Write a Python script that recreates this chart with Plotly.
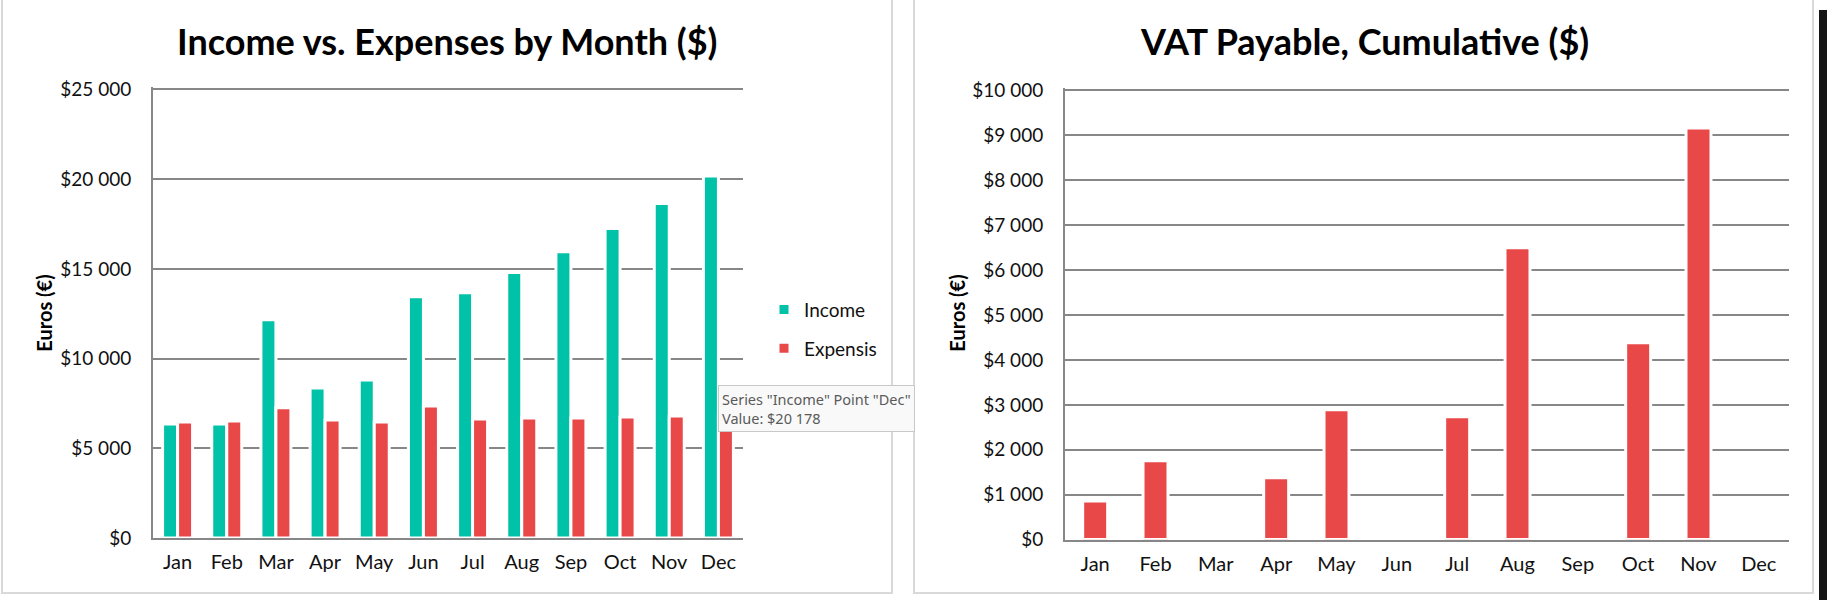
import plotly.graph_objects as go

months = ["Jan", "Feb", "Mar", "Apr", "May", "Jun", "Jul", "Aug", "Sep", "Oct", "Nov", "Dec"]
income = [6350, 6350, 12160, 8360, 8810, 13450, 13670, 14790, 15960, 17250, 18640, 20178]
expenses = [6460, 6520, 7250, 6580, 6460, 7360, 6630, 6690, 6690, 6740, 6800, 6850]
vat_cumulative = [862, 1754, 0, 1375, 2890, 0, 2735, 6501, 0, 4384, 9164, 0]

left_title = "Income vs. Expenses by Month ($)"
right_title = "VAT Payable, Cumulative ($)"
y_title = "Euros (€)"
series_names = ["Income", "Expensis"]
tooltip_text = 'Series "Income" Point "Dec"<br>Value: $20 178'

TEAL = "#00C2A8"
RED = "#E84848"
GRID = "#878787"
FONT = "Lato"
W, H = 1827, 611

fig = go.Figure()
fig.add_trace(go.Bar(x=months, y=income, name=series_names[0], marker=dict(color=TEAL, line=dict(color="white", width=3)),
                     xaxis="x", yaxis="y", legendgroup="a"))
fig.add_trace(go.Bar(x=months, y=expenses, name=series_names[1], marker=dict(color=RED, line=dict(color="white", width=3)),
                     xaxis="x", yaxis="y", legendgroup="b"))
fig.add_trace(go.Bar(x=months, y=vat_cumulative, name="VAT", marker=dict(color=RED, line=dict(color="white", width=3)),
                     xaxis="x2", yaxis="y2", width=0.414, showlegend=False))

def px_x(p):
    return p / W

# vertical calibration (observed render offset/scale)
def px_y(p):
    return 1 - ((p - 9.6) / 0.9647) / H

axis_common = dict(showline=True, linecolor=GRID, linewidth=2, ticks="", showgrid=False,
                   tickfont=dict(family=FONT, size=20, color="#111111"), ticklabelstandoff=5)
yaxis_common = dict(showline=True, linecolor=GRID, linewidth=2, ticks="", showgrid=True, gridcolor=GRID,
                    gridwidth=1.5, zeroline=False, tickprefix="$", tickformat=",.0f",
                    tickfont=dict(family=FONT, size=19, color="#111111"), ticklabelstandoff=16)

fig.update_layout(
    width=W, height=H, autosize=False, margin=dict(l=0, r=0, t=0, b=0),
    paper_bgcolor="white", plot_bgcolor="white",
    separators=". ",
    barmode="group", bargap=0.39, bargroupgap=0.0,
    xaxis=dict(domain=[px_x(153), px_x(743)], anchor="y", **axis_common),
    yaxis=dict(domain=[px_y(537), px_y(86.85)], anchor="x", range=[0, 25120], tick0=0, dtick=5000, **yaxis_common),
    xaxis2=dict(domain=[px_x(1065), px_x(1789)], anchor="y2", **axis_common),
    yaxis2=dict(domain=[px_y(538.7), px_y(87.76)], anchor="x2", range=[0, 10050], tick0=0, dtick=1000, **yaxis_common),
    showlegend=True,
    legend=dict(x=px_x(764), y=px_y(290), xanchor="left", yanchor="top", bgcolor="rgba(0,0,0,0)",
                font=dict(family=FONT, size=19, color="#111111"), traceorder="grouped", tracegroupgap=11,
                itemwidth=30),
)

shapes = [
    dict(type="rect", xref="paper", yref="paper", x0=px_x(2), x1=px_x(892), y0=px_y(592), y1=1.02,
         line=dict(color="#D9D9D9", width=2), fillcolor="rgba(0,0,0,0)", layer="below"),
    dict(type="rect", xref="paper", yref="paper", x0=px_x(914), x1=px_x(1813), y0=px_y(592), y1=1.02,
         line=dict(color="#D9D9D9", width=2), fillcolor="rgba(0,0,0,0)", layer="below"),
    dict(type="rect", xref="paper", yref="paper", x0=px_x(1819), x1=px_x(1830), y0=0, y1=1,
         line=dict(width=0), fillcolor="#151515", layer="above"),
]
fig.update_layout(shapes=shapes)

annotations = [
    dict(text="<b>" + left_title + "</b>", x=px_x(447), y=px_y(41), xref="paper", yref="paper",
         xanchor="center", yanchor="middle", showarrow=False, font=dict(family=FONT, size=36, color="#000000")),
    dict(text="<b>" + right_title + "</b>", x=px_x(1364), y=px_y(41), xref="paper", yref="paper",
         xanchor="center", yanchor="middle", showarrow=False, font=dict(family=FONT, size=36, color="#000000")),
    dict(text="<b>" + y_title + "</b>", x=px_x(44), y=px_y(313), xref="paper", yref="paper", textangle=-90,
         xanchor="center", yanchor="middle", showarrow=False, font=dict(family=FONT, size=20, color="#000000")),
    dict(text="<b>" + y_title + "</b>", x=px_x(957), y=px_y(313), xref="paper", yref="paper", textangle=-90,
         xanchor="center", yanchor="middle", showarrow=False, font=dict(family=FONT, size=20, color="#000000")),
    dict(text=tooltip_text, x=px_x(718), y=px_y(384), xref="paper", yref="paper", xanchor="left", yanchor="top",
         align="left", showarrow=False, bgcolor="#F9F9F9", bordercolor="#C8C8C8", borderwidth=1, borderpad=3,
         font=dict(family="Noto Sans", size=14.5, color="#5A5A5A")),
]
fig.update_layout(annotations=annotations)

fig.write_html("out.html", config={"responsive": False})
